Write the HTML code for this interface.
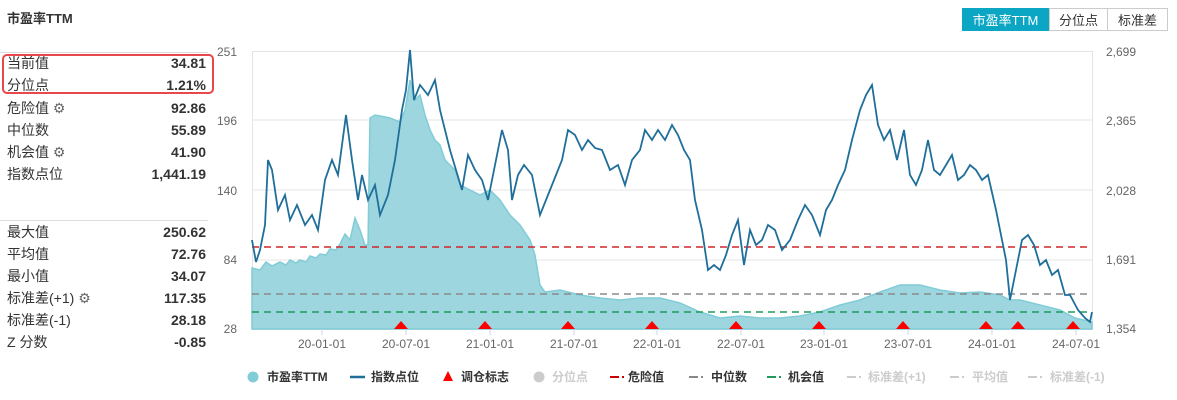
<!DOCTYPE html>
<html><head><meta charset="utf-8"><style>
body{margin:0;width:1177px;height:400px;background:#fff;font-family:"Liberation Sans","Noto Sans CJK SC",sans-serif;color:#333;position:relative;overflow:hidden}
.t{position:absolute;font-size:14px;line-height:16px}
.l{left:7px}.v{right:971px;font-weight:bold;text-align:right}
.btn{position:absolute;top:8px;height:23px;line-height:23px;font-size:13px;text-align:center;border:1px solid #ccc;box-sizing:border-box;color:#333}
</style></head><body>
<div class="t" style="left:7px;top:11px;font-weight:bold;font-size:13px">市盈率TTM</div>
<div style="position:absolute;left:0;top:52px;width:208px;height:1px;background:#ddd"></div>
<div style="position:absolute;left:0;top:220px;width:208px;height:1px;background:#ddd"></div>
<div style="position:absolute;left:2px;top:54px;width:212px;height:40px;border:2px solid #e8484b;border-radius:5px;box-sizing:border-box"></div>
<div class="t l" style="top:55px">当前值</div><div class="t v" style="top:55px">34.81</div>
<div class="t l" style="top:77px">分位点</div><div class="t v" style="top:77px">1.21%</div>
<div class="t l" style="top:100px">危险值 <span style="color:#666">⚙</span></div><div class="t v" style="top:100px">92.86</div>
<div class="t l" style="top:122px">中位数</div><div class="t v" style="top:122px">55.89</div>
<div class="t l" style="top:144px">机会值 <span style="color:#666">⚙</span></div><div class="t v" style="top:144px">41.90</div>
<div class="t l" style="top:166px">指数点位</div><div class="t v" style="top:166px">1,441.19</div>
<div class="t l" style="top:224px">最大值</div><div class="t v" style="top:224px">250.62</div>
<div class="t l" style="top:246px">平均值</div><div class="t v" style="top:246px">72.76</div>
<div class="t l" style="top:268px">最小值</div><div class="t v" style="top:268px">34.07</div>
<div class="t l" style="top:290px">标准差(+1) <span style="color:#666">⚙</span></div><div class="t v" style="top:290px">117.35</div>
<div class="t l" style="top:312px">标准差(-1)</div><div class="t v" style="top:312px">28.18</div>
<div class="t l" style="top:334px">Z 分数</div><div class="t v" style="top:334px">-0.85</div>

<div class="btn" style="left:962px;width:87px;background:#0aa6c4;border-color:#0aa6c4;color:#fff">市盈率TTM</div>
<div class="btn" style="left:1049px;width:59px">分位点</div>
<div class="btn" style="left:1107px;width:61px">标准差</div>

<svg width="1177" height="400" style="position:absolute;left:0;top:0" font-family="Liberation Sans, Noto Sans CJK SC, sans-serif">
<rect x="252.5" y="51.5" width="840" height="278" fill="none" stroke="#e4e4e4"/>
<g stroke="#e6e6e6"><line x1="252" y1="120" x2="1092" y2="120"/><line x1="252" y1="190" x2="1092" y2="190"/><line x1="252" y1="260" x2="1092" y2="260"/></g>
<g font-size="12" fill="#666" text-anchor="end"><text x="237" y="56">251</text><text x="237" y="125">196</text><text x="237" y="195">140</text><text x="237" y="264">84</text><text x="237" y="333">28</text></g>
<g font-size="12" fill="#666"><text x="1106" y="56">2,699</text><text x="1106" y="125">2,365</text><text x="1106" y="195">2,028</text><text x="1106" y="264">1,691</text><text x="1106" y="333">1,354</text></g>
<path d="M252,329 L252,268 260,270 266,262 272,266 280,262 286,265 290,260 296,263 300,260 306,262 310,256 316,258 320,254 326,255 330,249 336,250 340,244 345,234 350,240 355,218 360,230 365,245 368,245 370,118 375,115 390,118 400,122 405,110 410,80 415,100 420,95 425,115 430,130 435,140 440,145 445,160 455,170 460,185 470,190 480,195 490,190 500,200 510,215 520,225 530,240 535,255 540,285 545,292 560,290 580,295 600,298 620,300 640,298 660,298 680,303 700,312 720,318 740,316 760,318 780,318 800,316 820,312 840,305 860,300 880,292 900,285 920,285 940,290 960,293 980,292 1000,295 1010,300 1020,300 1040,305 1060,310 1075,318 1092,322 L1092,329 Z" fill="#9dd6df" stroke="#80ccd7" stroke-width="1.5"/>
<g stroke-dasharray="7,5" stroke-width="1.6"><line x1="252" y1="247" x2="1088" y2="247" stroke="#d0262b"/><line x1="252" y1="294" x2="1088" y2="294" stroke="#8a8a8a"/><line x1="252" y1="312" x2="1088" y2="312" stroke="#1e9b5a"/></g>
<polyline fill="none" stroke="#1f6f9a" stroke-width="1.8" points="252,240 256,262 260,250 265,225 268,160 272,170 278,210 285,195 290,220 297,205 305,225 312,215 318,230 325,180 332,160 338,175 346,115 352,160 358,200 362,175 368,200 375,185 380,215 388,195 395,160 402,110 406,90 410,50 414,100 420,85 428,95 435,80 440,110 445,130 450,150 456,170 462,190 468,155 475,170 482,180 488,200 495,165 502,130 508,150 512,200 518,175 524,165 532,175 540,215 548,195 556,175 562,160 568,130 575,135 582,150 588,140 595,148 602,150 610,170 618,165 625,185 632,160 640,150 645,130 652,140 658,130 665,140 672,125 678,135 684,150 690,160 695,200 702,230 708,270 714,265 720,270 726,255 732,235 738,220 744,265 750,230 756,245 762,240 768,225 775,230 782,250 790,240 798,220 805,205 812,215 820,235 826,210 832,200 838,185 845,170 852,140 860,110 866,95 872,85 878,125 884,140 890,130 897,160 904,130 910,175 916,185 922,170 928,140 934,170 940,175 946,165 952,155 958,180 964,175 970,165 976,170 982,180 988,175 996,210 1002,240 1006,260 1010,300 1016,270 1022,240 1028,235 1034,245 1040,265 1046,260 1052,275 1058,270 1065,295 1070,295 1078,310 1085,318 1090,322 1092,312"/>
<g fill="#f00"><path d="M401,321 l-7,8 h14z"/><path d="M485,321 l-7,8 h14z"/><path d="M568,321 l-7,8 h14z"/><path d="M652,321 l-7,8 h14z"/><path d="M736,321 l-7,8 h14z"/><path d="M819,321 l-7,8 h14z"/><path d="M903,321 l-7,8 h14z"/><path d="M986,321 l-7,8 h14z"/><path d="M1018,321 l-7,8 h14z"/><path d="M1073,321 l-7,8 h14z"/></g>
<g stroke="#ccd6eb"><line x1="322" y1="329" x2="322" y2="335"/><line x1="406" y1="329" x2="406" y2="335"/><line x1="490" y1="329" x2="490" y2="335"/><line x1="574" y1="329" x2="574" y2="335"/><line x1="657" y1="329" x2="657" y2="335"/><line x1="741" y1="329" x2="741" y2="335"/><line x1="824" y1="329" x2="824" y2="335"/><line x1="908" y1="329" x2="908" y2="335"/><line x1="992" y1="329" x2="992" y2="335"/><line x1="1076" y1="329" x2="1076" y2="335"/></g>
<g font-size="12" fill="#666" text-anchor="middle"><text x="322" y="348">20-01-01</text><text x="406" y="348">20-07-01</text><text x="490" y="348">21-01-01</text><text x="574" y="348">21-07-01</text><text x="657" y="348">22-01-01</text><text x="741" y="348">22-07-01</text><text x="824" y="348">23-01-01</text><text x="908" y="348">23-07-01</text><text x="992" y="348">24-01-01</text><text x="1076" y="348">24-07-01</text></g>
<g font-size="12" font-weight="bold">
<circle cx="253" cy="377" r="5.5" fill="#80ccd7"/><text x="267" y="381" fill="#333">市盈率TTM</text>
<line x1="350" y1="377" x2="365" y2="377" stroke="#1f6f9a" stroke-width="2.5"/><text x="371" y="381" fill="#333">指数点位</text>
<path d="M448,371 l-5,10 h10z" fill="#f00"/><text x="461" y="381" fill="#333">调仓标志</text>
<circle cx="539" cy="377" r="5.5" fill="#ccc"/><text x="552" y="381" fill="#ccc">分位点</text>
<g stroke-width="2"><line x1="610" y1="377" x2="619" y2="377" stroke="#c00"/><line x1="622" y1="377" x2="624" y2="377" stroke="#c00"/>
<line x1="689" y1="377" x2="698" y2="377" stroke="#888"/><line x1="701" y1="377" x2="703" y2="377" stroke="#888"/>
<line x1="767" y1="377" x2="776" y2="377" stroke="#1e9b5a"/><line x1="779" y1="377" x2="781" y2="377" stroke="#1e9b5a"/>
<line x1="847" y1="377" x2="856" y2="377" stroke="#ccc"/><line x1="859" y1="377" x2="861" y2="377" stroke="#ccc"/>
<line x1="950" y1="377" x2="959" y2="377" stroke="#ccc"/><line x1="962" y1="377" x2="964" y2="377" stroke="#ccc"/>
<line x1="1028" y1="377" x2="1037" y2="377" stroke="#ccc"/><line x1="1040" y1="377" x2="1042" y2="377" stroke="#ccc"/></g>
<text x="628" y="381" fill="#333">危险值</text>
<text x="711" y="381" fill="#333">中位数</text>
<text x="788" y="381" fill="#333">机会值</text>
<text x="868" y="381" fill="#ccc">标准差(+1)</text>
<text x="972" y="381" fill="#ccc">平均值</text>
<text x="1050" y="381" fill="#ccc">标准差(-1)</text>
</g>
</svg>
</body></html>
